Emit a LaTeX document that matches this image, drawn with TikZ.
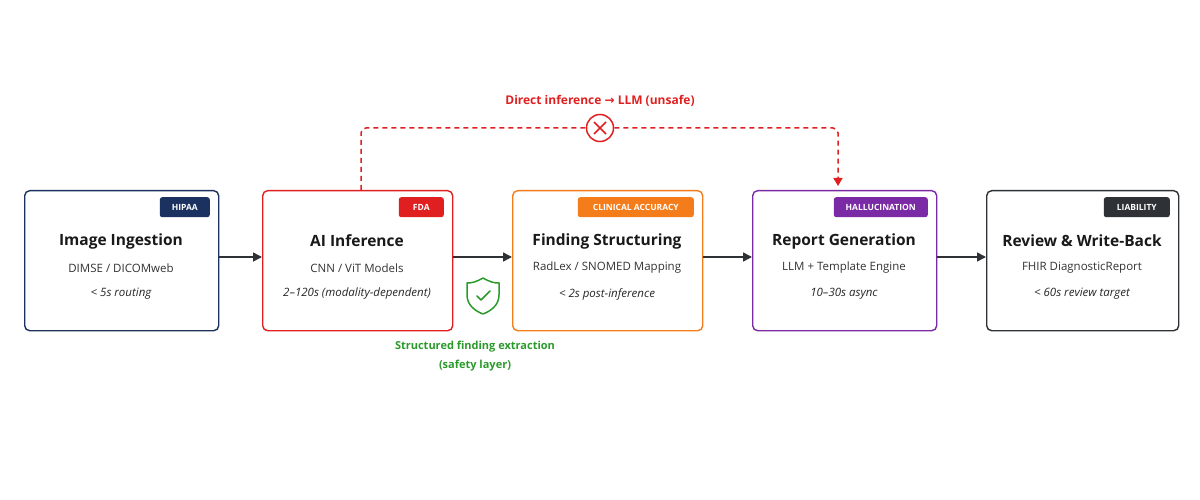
\documentclass[tikz,border=0pt]{standalone}
\usepackage{fontspec}
\setmainfont{Open Sans}
\newfontfamily\sym{DejaVu Sans}
\usetikzlibrary{arrows.meta}
\definecolor{cnavy}{HTML}{1B3260}
\definecolor{cred}{HTML}{E02020}
\definecolor{corange}{HTML}{F57C1A}
\definecolor{cpurple}{HTML}{7B2AA5}
\definecolor{cdark}{HTML}{2E3236}
\definecolor{cgreen}{HTML}{2A9A2A}
\tikzset{
 box/.style={draw=#1,line width=1.4pt,rounded corners=5pt,fill=white,minimum height=140pt,anchor=north west,inner sep=0},
 badge/.style={fill=#1,rounded corners=2.5pt,text=white,font=\fontsize{8.5}{9}\selectfont\bfseries,inner sep=0,minimum height=20pt,anchor=north east},
 ttl/.style={font=\fontsize{15.5}{17}\selectfont\bfseries,text=black!90},
 sub/.style={font=\fontsize{11.5}{13}\selectfont,text=black!80},
 tim/.style={font=\fontsize{11.5}{13}\selectfont\itshape,text=black!85},
 flow/.style={-{Triangle[length=9pt,width=9pt]},line width=1.5pt,draw=cdark},
}
\begin{document}
\begin{tikzpicture}[x=1pt,y=-1pt]
\useasboundingbox (0,0) rectangle (1200,500);
\foreach \n/\xa/\xb/\c/\bw/\bt/\t/\s/\ti in {
 a/24/218/cnavy/50/HIPAA/Image Ingestion/{DIMSE / DICOMweb}/< 5s routing,
 b/262/452/cred/45/FDA/AI Inference/{CNN / ViT Models}/2–120s (modality-dependent),
 c/512/702/corange/116/CLINICAL ACCURACY/Finding Structuring/{RadLex / SNOMED Mapping}/< 2s post-inference,
 d/752/936/cpurple/94/HALLUCINATION/Report Generation/LLM + Template Engine/10–30s async,
 e/986/1178/cdark/66/LIABILITY/Review \& Write-Back/FHIR DiagnosticReport/< 60s review target}{
 \node[box=\c,minimum width={\xb-\xa}] (\n) at (\xa,190) {};
 \node[badge=\c,minimum width=\bw] (\n b) at (\xb-8,197) {\bt};
 \node[ttl] (\n t) at ({(\xa+\xb)/2},241) {\t};
 \node[sub] (\n s) at ({(\xa+\xb)/2},268) {\s};
 \node[tim] (\n i) at ({(\xa+\xb)/2},294) {\ti};
}
\draw[flow] (a.east|-0,257) -- (b.west|-0,257);
\draw[flow] (b.east|-0,257) -- (c.west|-0,257);
\draw[flow] (c.east|-0,257) -- (d.west|-0,257);
\draw[flow] (d.east|-0,257) -- (e.west|-0,257);
% unsafe path
\coordinate (s0) at (361,190);
\coordinate (s1) at (838,186);
\node[circle,draw=cred,line width=1.5pt,fill=white,minimum size=27pt,inner sep=0] (x) at (600,128) {};
\draw[cred,line width=1.6pt] (594,122) -- (606,134) (594,134) -- (606,122);
\draw[cred,line width=1.5pt,dash pattern=on 5pt off 4pt,rounded corners=5pt] (s0) -- (361,128) -- (x.west);
\draw[cred,line width=1.5pt,dash pattern=on 5pt off 4pt,rounded corners=5pt,-{Triangle[length=8pt,width=9pt]}] (x.east) -- (838,128) -- (s1);
\node[text=cred,font=\fontsize{12}{14}\selectfont\bfseries] (lbl) at (600,101) {Direct inference {\sym →} LLM (unsafe)};
% shield
\draw[cgreen,line width=1.5pt,line join=round] (483,278) .. controls (476,282) and (472,283) .. (467,283) -- (467,295) .. controls (467,305) and (475,311) .. (483,314) .. controls (491,311) and (499,305) .. (499,295) -- (499,283) .. controls (494,283) and (490,282) .. (483,278) -- cycle;
\draw[cgreen,line width=1.5pt,line cap=round,line join=round] (477,296) -- (481,300) -- (490,291);
\node[text=cgreen,font=\fontsize{11}{19}\selectfont\bfseries,align=center] (g) at (475,356) {Structured finding extraction\\(safety layer)};
\end{tikzpicture}
\end{document}
